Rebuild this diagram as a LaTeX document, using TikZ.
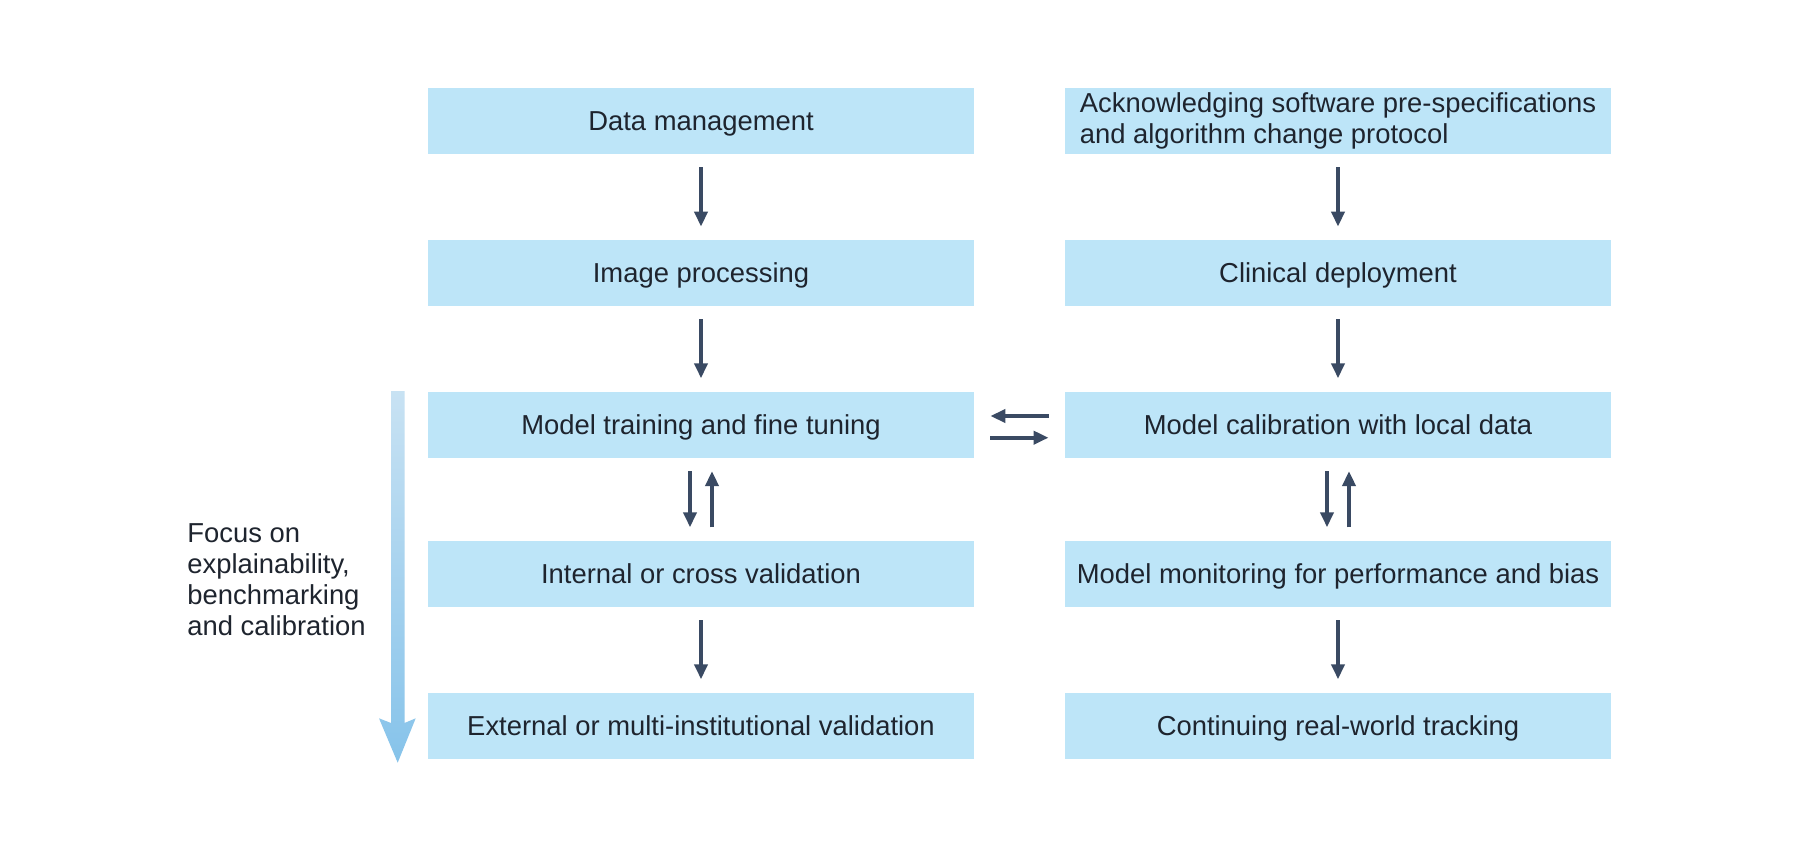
\documentclass[tikz,border=0pt]{standalone}
\usepackage{fontspec}
\setmainfont{Liberation Sans}
\usetikzlibrary{arrows.meta}
\definecolor{boxfill}{RGB}{189,229,248}
\definecolor{arrowc}{RGB}{58,74,99}
\definecolor{textc}{RGB}{30,36,46}
\definecolor{gtop}{RGB}{200,226,243}
\definecolor{gbot}{RGB}{134,195,234}
\begin{document}
\begin{tikzpicture}[x=0.5pt,y=-0.5pt,
  stagebox/.style={fill=boxfill, text=textc, inner sep=0pt, minimum width=273pt, minimum height=33pt,
    font=\fontsize{13.7pt}{15.5pt}\selectfont, text height=9.8pt, text depth=0pt},
  widebox/.style={fill=boxfill, text=textc, inner sep=0pt, minimum width=273pt, minimum height=33pt,
    align=left, font=\fontsize{13.7pt}{15.5pt}\selectfont},
  flowarrow/.style={draw=arrowc, line width=2pt, -{Triangle[width=6.5pt,length=7.5pt]},
    shorten <=6.5pt, shorten >=6.5pt},
  sidearrow/.style={flowarrow, shorten <=8pt, shorten >=8pt},
  focustext/.style={text=textc, inner sep=0pt, align=left, font=\fontsize{13.7pt}{15.5pt}\selectfont}
]
\useasboundingbox (0,0) rectangle (1800,852);
\fill[white] (0,0) rectangle (1800,852);

% left column
\node[stagebox] (l1) at (701,121)   {Data management};
\node[stagebox] (l2) at (701,273)   {Image processing};
\node[stagebox] (l3) at (701,424.7) {Model training and fine tuning};
\node[stagebox] (l4) at (701,573.7) {Internal or cross validation};
\node[stagebox] (l5) at (701,725.7) {External or multi-institutional validation};

% right column
\node[widebox]  (r1) at (1338,121)   {Acknowledging software pre-specifications\\and algorithm change protocol};
\node[stagebox] (r2) at (1338,273)   {Clinical deployment};
\node[stagebox] (r3) at (1338,424.7) {Model calibration with local data};
\node[stagebox] (r4) at (1338,573.7) {Model monitoring for performance and bias};
\node[stagebox] (r5) at (1338,725.7) {Continuing real-world tracking};

% vertical connectors
\draw[flowarrow] (l1) -- (l2);
\draw[flowarrow] (l2) -- (l3);
\draw[flowarrow] ([xshift=-5.5pt]l3.south) -- ([xshift=-5.5pt]l4.north);
\draw[flowarrow] ([xshift=5.5pt]l4.north) -- ([xshift=5.5pt]l3.south);
\draw[flowarrow] (l4) -- (l5);

\draw[flowarrow] (r1) -- (r2);
\draw[flowarrow] (r2) -- (r3);
\draw[flowarrow] ([xshift=-5.5pt]r3.south) -- ([xshift=-5.5pt]r4.north);
\draw[flowarrow] ([xshift=5.5pt]r4.north) -- ([xshift=5.5pt]r3.south);
\draw[flowarrow] (r4) -- (r5);

% horizontal connectors
\draw[sidearrow] ([yshift=4.35pt]r3.west) -- ([yshift=4.35pt]l3.east);
\draw[sidearrow] ([yshift=-6.5pt]l3.east) -- ([yshift=-6.5pt]r3.west);

% gradient arrow
\shade[top color=gtop, bottom color=gbot]
  (391,391) -- (391,723) -- (379,718.3) -- (397.7,762.7) -- (415.7,718.3) -- (404.5,723) -- (404.5,391) -- cycle;

\node[focustext, anchor=base west] (focus) at (187,635)
  {Focus on\\explainability,\\benchmarking\\and calibration};
\end{tikzpicture}
\end{document}
